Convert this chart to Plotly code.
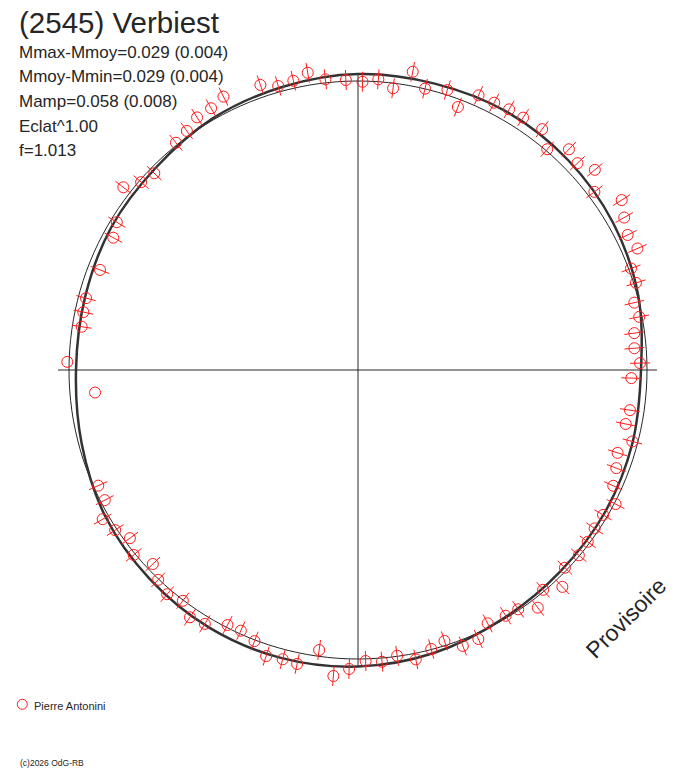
import plotly.graph_objects as go

# observations: rotational phase shown as polar angle (deg) and radial distance
obs_theta = [
    171.1, 168.1, 165.2, 158.8, 151.6, 148.5, 142.1, 139.1, 136.0, 128.7,
    125.6, 122.5, 119.3, 116.2, 108.9, 105.7, 102.6, 99.6, 96.4, 92.4,
    89.1, 86.0, 82.9, 79.6, 76.6, 72.3, 69.2, 66.3, 63.0, 59.9,
    56.8, 52.6, 49.4, 46.3, 43.3, 40.2, 37.0, 32.8, 29.8, 26.6,
    23.5, 20.4, 17.4, 13.7, 10.7, 7.6, 4.5, 1.4,
    358.3, 351.6, 348.6, 345.4, 342.3, 339.2, 335.6, 332.5, 329.4, 326.2,
    323.2, 320.0, 316.3, 313.3, 310.1, 307.1, 303.8, 301.0, 297.1, 294.1,
    290.8, 287.7, 284.7, 281.3, 277.8, 274.7, 271.5,
    204.0, 207.2, 210.3, 213.4, 216.4, 219.5, 223.4, 226.4, 229.6, 232.8,
    235.8, 238.9, 242.9, 245.8, 249.1, 252.2, 255.4, 258.3, 262.1, 265.4,
    268.3,
]
obs_r = [
    279.7, 280.7, 281.3, 276.7, 278.2, 282.9, 297.4, 286.9, 283.2, 291.2,
    294.0, 299.5, 300.2, 304.7, 301.3, 295.0, 296.4, 301.5, 292.5, 290.2,
    288.3, 291.4, 283.9, 303.2, 289.2, 293.9, 281.3, 300.0, 300.0, 301.3,
    301.6, 303.2, 290.8, 305.3, 301.6, 310.1, 296.0, 313.7, 306.8, 301.6,
    304.7, 291.3, 291.3, 284.4, 286.2, 278.7, 277.2, 282.1,
    273.4, 274.9, 273.1, 283.5, 272.5, 276.3, 280.3, 290.4, 284.7, 284.8,
    286.9, 288.3, 286.2, 298.0, 287.4, 298.0, 288.0, 286.7, 284.6, 294.7,
    295.2, 284.4, 288.4, 295.1, 288.4, 292.7, 291.1,
    284.3, 284.7, 295.7, 290.9, 283.4, 290.7, 282.4, 289.8, 294.4, 289.7,
    299.0, 296.5, 286.5, 285.8, 290.2, 300.4, 298.9, 300.2, 282.7, 307.0,
    299.1,
]
# points drawn without error bar
single_theta = [178.4, 184.9]
single_r = [290.8, 263.9]

# fitted light curve
model_theta = [0, 15, 30, 45, 60, 75, 90, 105, 120, 135, 150, 165,
               180, 195, 210, 225, 240, 255, 270, 285, 300, 315, 330, 345, 360]
model_r = [283, 290, 294.5, 297, 298, 296.5, 296, 293, 290.5, 286, 285, 282.5,
           282, 286, 292, 295, 297.5, 298, 296.5, 293, 288, 285.5, 285, 284, 283]

mean_r = 289
err = 10

RED = "#ff1c1c"
INK = "#262626"
FONT = "Liberation Sans, Arial, sans-serif"

fig = go.Figure()

# axes cross
fig.add_trace(go.Scatterpolar(r=[300, 0, 299], theta=[180, 0, 0], mode="lines",
                              line=dict(color=INK, width=1), hoverinfo="skip"))
fig.add_trace(go.Scatterpolar(r=[297, 0, 297], theta=[90, 0, 270], mode="lines",
                              line=dict(color=INK, width=1), hoverinfo="skip"))

# mean circle
circ_theta = list(range(0, 361, 2))
fig.add_trace(go.Scatterpolar(r=[mean_r] * len(circ_theta), theta=circ_theta,
                              mode="lines", line=dict(color=INK, width=1)))

# model
fig.add_trace(go.Scatterpolar(r=model_r, theta=model_theta, mode="lines",
                              line=dict(color="#333333", width=2.5, shape="spline")))

# error bars
eb_r, eb_t = [], []
for t, r in zip(obs_theta, obs_r):
    eb_r += [r - err, r + err, None]
    eb_t += [t, t, None]
fig.add_trace(go.Scatterpolar(r=eb_r, theta=eb_t, mode="lines",
                              line=dict(color=RED, width=1), connectgaps=False))

fig.add_trace(go.Scatterpolar(r=obs_r, theta=obs_theta, mode="markers", cliponaxis=False,
                              marker=dict(symbol="circle-open", size=11,
                                          color=RED, line=dict(width=1, color=RED))))
fig.add_trace(go.Scatterpolar(r=single_r, theta=single_theta, mode="markers", cliponaxis=False,
                              marker=dict(symbol="circle-open", size=11,
                                          color=RED, line=dict(width=1, color=RED))))


def px(x, y):
    return x / 688, 1 - y / 768


anns = []
x, y = px(18, 22)
anns.append(dict(text="(2545) Verbiest", x=x, y=y, font=dict(size=29.5)))
for i, line in enumerate(["Mmax-Mmoy=0.029 (0.004)", "Mmoy-Mmin=0.029 (0.004)",
                          "Mamp=0.058 (0.008)", "Eclat^1.00", "f=1.013"]):
    x, y = px(18, 52 + 24.7 * i)
    anns.append(dict(text=line, x=x, y=y, font=dict(size=17)))
x, y = px(33, 705.5)
anns.append(dict(text="Pierre Antonini", x=x, y=y, font=dict(size=11)))
x, y = px(19, 762.5)
anns.append(dict(text="(c)2026 OdG-RB", x=x, y=y, font=dict(size=8.5)))
for a in anns:
    a.update(xref="paper", yref="paper", xanchor="left", yanchor="middle",
             showarrow=False, borderpad=0)
    a["font"].update(color=INK, family=FONT)
x, y = px(626, 618)
anns.append(dict(text="Provisoire", x=x, y=y, xref="paper", yref="paper",
                 xanchor="center", yanchor="middle", textangle=-45, showarrow=False,
                 font=dict(size=23, color=INK, family=FONT)))

cx, cy = px(22.3, 704.3)
fig.add_shape(type="circle", xref="paper", yref="paper",
              x0=cx - 5 / 688, x1=cx + 5 / 688, y0=cy - 5 / 768, y1=cy + 5 / 768,
              line=dict(color=RED, width=1))

fig.update_layout(
    width=688, height=768,
    margin=dict(l=0, r=0, t=0, b=0),
    paper_bgcolor="white",
    showlegend=False,
    annotations=anns,
    polar=dict(
        domain=dict(x=[28 / 688, 1.0], y=[68 / 768, 728 / 768]),
        bgcolor="white",
        radialaxis=dict(range=[0, 330], visible=False, showgrid=False),
        angularaxis=dict(visible=False, showgrid=False, rotation=0,
                         direction="counterclockwise"),
    ),
)

# page body has a default 8px margin; drop it so the figure sits at the window corner
fig.write_html("out.html", config={"displayModeBar": False},
               post_script="document.body.style.margin='0';")
